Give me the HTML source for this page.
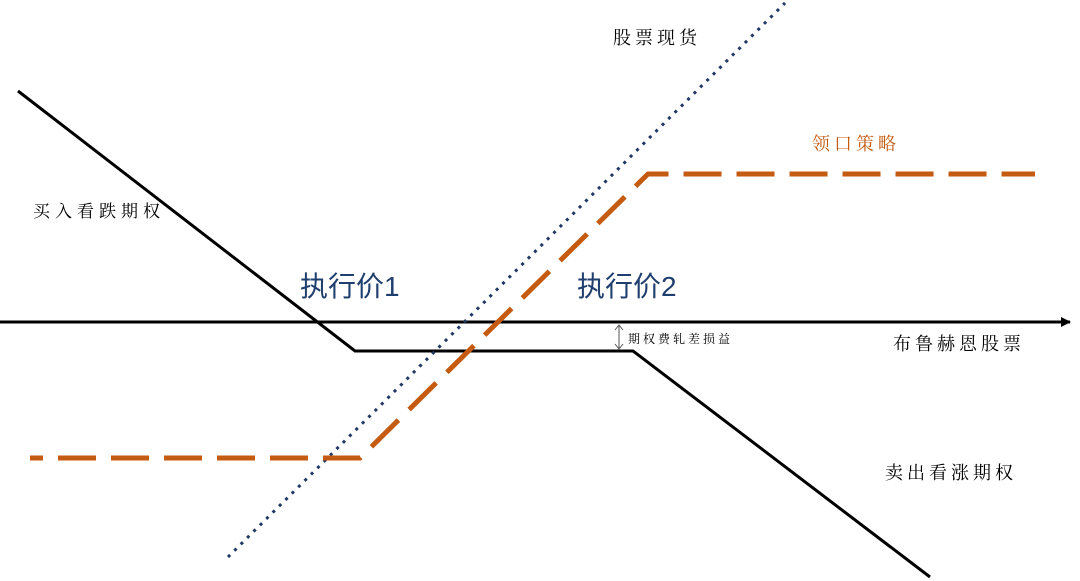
<!DOCTYPE html>
<html><head><meta charset="utf-8"><style>
html,body{margin:0;padding:0;background:#fff;width:1080px;height:581px;overflow:hidden}
text{font-family:"Liberation Serif","Noto Serif CJK SC",serif}
</style></head><body>
<svg width="1080" height="581" viewBox="0 0 1080 581" xmlns="http://www.w3.org/2000/svg">
<defs>
<marker id="ar" markerWidth="10" markerHeight="10" refX="9" refY="5" orient="auto" markerUnits="userSpaceOnUse">
<path d="M0,0 L10,5 L0,10 Z" fill="#000"/></marker>
</defs>
<line x1="0" y1="322" x2="1070" y2="322" stroke="#000" stroke-width="3" marker-end="url(#ar)"/>
<polyline points="18,91 355,351 633,351 930,577" fill="none" stroke="#000" stroke-width="3"/>
<line x1="228" y1="557" x2="785" y2="3" stroke="#203864" stroke-width="3" stroke-dasharray="3 6"/>
<polyline points="30,458 360,458 648,174 1035,174" fill="none" stroke="#c55a11" stroke-width="5" stroke-dasharray="38 15" stroke-dashoffset="25"/>
<line x1="619" y1="325" x2="619" y2="349" stroke="#555" stroke-width="1"/>
<path d="M615,330 L619,325 L623,330 M615,344 L619,349 L623,344" fill="none" stroke="#555" stroke-width="1"/>
<text x="613" y="44" font-size="18" letter-spacing="4">股票现货</text>
<text x="812" y="150" font-size="18" fill="#c55a11" letter-spacing="4">领口策略</text>
<text x="33" y="217" font-size="17" letter-spacing="5">买入看跌期权</text>
<text x="300" y="296" font-size="28" fill="#1f3f6e" style="font-family:'Liberation Sans','Noto Sans CJK SC',sans-serif">执行价1</text>
<text x="577" y="296" font-size="28" fill="#1f3f6e" style="font-family:'Liberation Sans','Noto Sans CJK SC',sans-serif">执行价2</text>
<text x="628" y="343" font-size="12" letter-spacing="3">期权费轧差损益</text>
<text x="893" y="350" font-size="18" letter-spacing="4">布鲁赫恩股票</text>
<text x="885" y="479" font-size="18" letter-spacing="4">卖出看涨期权</text>
</svg>
</body></html>
